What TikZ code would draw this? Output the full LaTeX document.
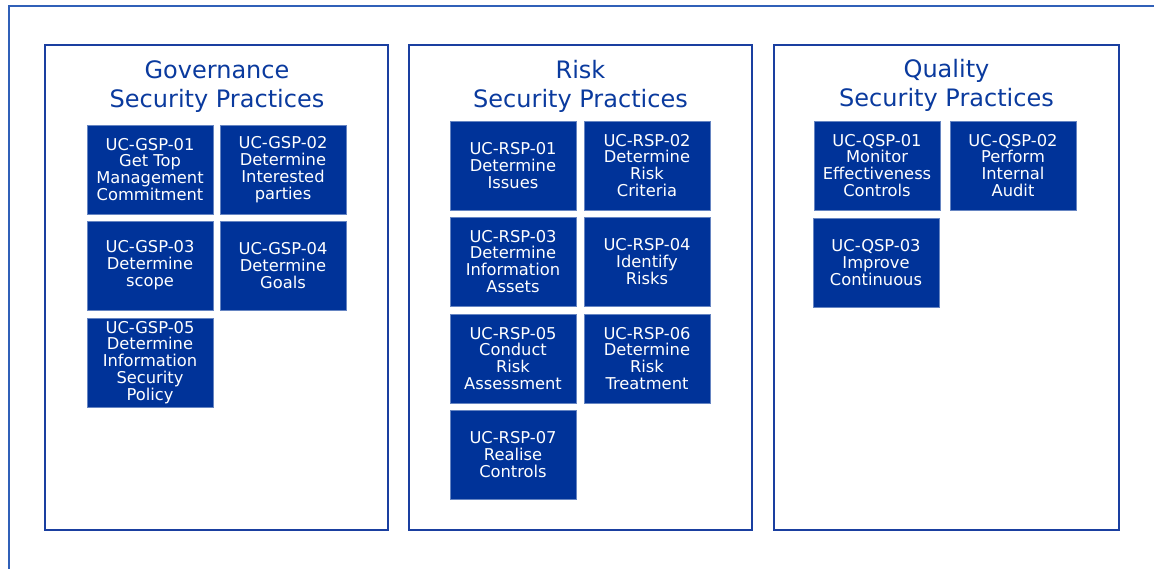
\documentclass[tikz,border=0pt]{standalone}
\usepackage{fontspec}
\setmainfont{DejaVu Sans}
\definecolor{boxblue}{HTML}{003399}
\definecolor{titleblue}{HTML}{0A3A9E}
\definecolor{panelblue}{HTML}{1A3FA0}
\definecolor{frameblue}{HTML}{3060B8}
\tikzset{
  panel/.style={draw=panelblue, line width=1.4pt, fill=white},
  ptitle/.style={text=titleblue, align=center, inner sep=0pt, font=\fontsize{24}{29}\selectfont},
  uc/.style={anchor=north west, fill=boxblue, draw=boxblue!60!white, line width=0.4pt, text=white, align=center,
    minimum width=126pt, minimum height=89pt, inner sep=0pt, outer sep=0pt,
    font=\fontsize{16.3}{16.9}\selectfont},
}
\begin{document}
\begin{tikzpicture}[x=1pt,y=-1pt]
\useasboundingbox (0,0) rectangle (1154,569);
\clip (0,0) rectangle (1154,569);
\draw[frameblue, line width=1.2pt] (9,6) rectangle (1200,620);
% panels
\draw[panel] (45,45) rectangle (388,530);
\draw[panel] (409,45) rectangle (752,530);
\draw[panel] (774,45) rectangle (1119,530);
\node[ptitle] (gt) at (217,87) {Governance\\Security Practices};
\node[ptitle] (rt) at (580.5,86) {Risk\\Security Practices};
\node[ptitle] (qt) at (946.5,85) {Quality\\Security Practices};
% governance
\node[uc] (g1) at (87,125) {UC-GSP-01\\Get Top\\Management\\Commitment};
\node[uc] (g2) at (220,125) {UC-GSP-02\\Determine\\Interested\\parties};
\node[uc] (g3) at (87,221) {UC-GSP-03\\Determine\\scope};
\node[uc] (g4) at (220,221) {UC-GSP-04\\Determine\\Goals};
\node[uc] (g5) at (87,318) {UC-GSP-05\\Determine\\Information\\Security\\Policy};
% risk
\node[uc] (r1) at (450,121) {UC-RSP-01\\Determine\\Issues};
\node[uc] (r2) at (584,121) {UC-RSP-02\\Determine\\Risk\\Criteria};
\node[uc] (r3) at (450,217) {UC-RSP-03\\Determine\\Information\\Assets};
\node[uc] (r4) at (584,217) {UC-RSP-04\\Identify\\Risks};
\node[uc] (r5) at (450,314) {UC-RSP-05\\Conduct\\Risk\\Assessment};
\node[uc] (r6) at (584,314) {UC-RSP-06\\Determine\\Risk\\Treatment};
\node[uc] (r7) at (450,410) {UC-RSP-07\\Realise\\Controls};
% quality
\node[uc] (q1) at (814,121) {UC-QSP-01\\Monitor\\Effectiveness\\Controls};
\node[uc] (q2) at (950,121) {UC-QSP-02\\Perform\\Internal\\Audit};
\node[uc] (q3) at (813,218) {UC-QSP-03\\Improve\\Continuous};
\end{tikzpicture}
\end{document}
